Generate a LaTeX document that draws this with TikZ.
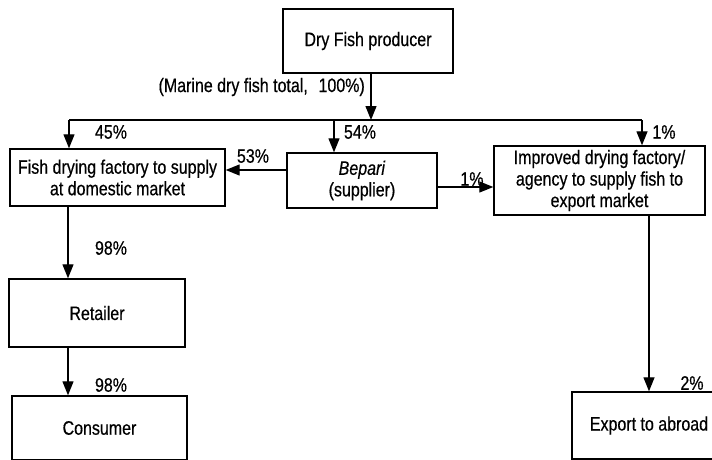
\documentclass[tikz,border=0pt]{standalone}
\usepackage{fontspec}
\setmainfont{Liberation Sans}[FakeStretch=0.82,FakeBold=0.5]
\usetikzlibrary{arrows.meta,calc}
\newcommand\labfont{\fontsize{19.5}{21.5}\selectfont}
\begin{document}
\begin{tikzpicture}[x=1pt,y=-1pt,
  box/.style={draw, line width=1.4pt, inner sep=0pt, align=center, font=\labfont},
  arr/.style={line width=1.3pt, -{Triangle[length=14pt,width=11pt]}},
  plain/.style={line width=1.3pt},
  pct/.style={font=\labfont, inner sep=0pt}]
\useasboundingbox (0,0) rectangle (712,460);
% boxes
\node[box, minimum width=170pt, minimum height=64pt] (prod) at (368,41) {Dry Fish producer};
\node[box, minimum width=215pt, minimum height=57pt] (fish) at (117.5,177.5) {Fish drying factory to supply\\at domestic market};
\node[box, minimum width=150pt, minimum height=55pt] (bep) at (362,180.5) {\textit{Bepari}\\(supplier)};
\node[box, minimum width=211pt, minimum height=69pt] (impr) at (599.5,180.5) {Improved drying factory/\\agency to supply fish to\\export market};
\node[box, minimum width=176pt, minimum height=68pt] (ret) at (97,313) {Retailer};
\node[box, minimum width=175pt, minimum height=64pt] (cons) at (99.5,428) {Consumer};
\node[box, minimum width=154pt, minimum height=67pt] (exp) at (649,425.5) {Export to abroad};
% bus
\coordinate (busL) at (69,120);
\coordinate (busM) at (334,120);
\coordinate (busR) at (642,120);
\coordinate (colL) at (68,0);
\draw[plain] (busL) -- (busR);
\draw[arr] ([xshift=3pt]prod.south) -- ([xshift=3pt]prod.south |- busL);
\draw[arr] (busL) -- (busL |- fish.north);
\draw[arr] (busM) -- (busM |- bep.north);
\draw[arr] (busR) -- (busR |- impr.north);
\draw[arr] ([yshift=10.5pt]bep.west) -- ([yshift=10.5pt]bep.west -| fish.east);
\draw[arr] ([yshift=-6.5pt]bep.east) -- ([yshift=-6.5pt]bep.east -| impr.west);
\draw[arr] (fish.south -| colL) -- (ret.north -| colL);
\draw[arr] (ret.south -| colL) -- (cons.north -| colL);
\draw[arr] (impr.south -| exp.north) -- (exp.north);
% labels
\node[pct, anchor=east] (lmarine) at (365,87) {(Marine dry fish total,\hspace{0.55em}100\%)};
\node[pct] (l45) at (111,132) {45\%};
\node[pct] (l54) at (360,132) {54\%};
\node[pct] (l1a) at (664,132) {1\%};
\node[pct] (l53) at (253,156) {53\%};
\node[pct] (l1b) at (472,179) {1\%};
\node[pct] (l98a) at (111,248) {98\%};
\node[pct] (l98b) at (111,385) {98\%};
\node[pct] (l2) at (692,383) {2\%};
\end{tikzpicture}
\end{document}
